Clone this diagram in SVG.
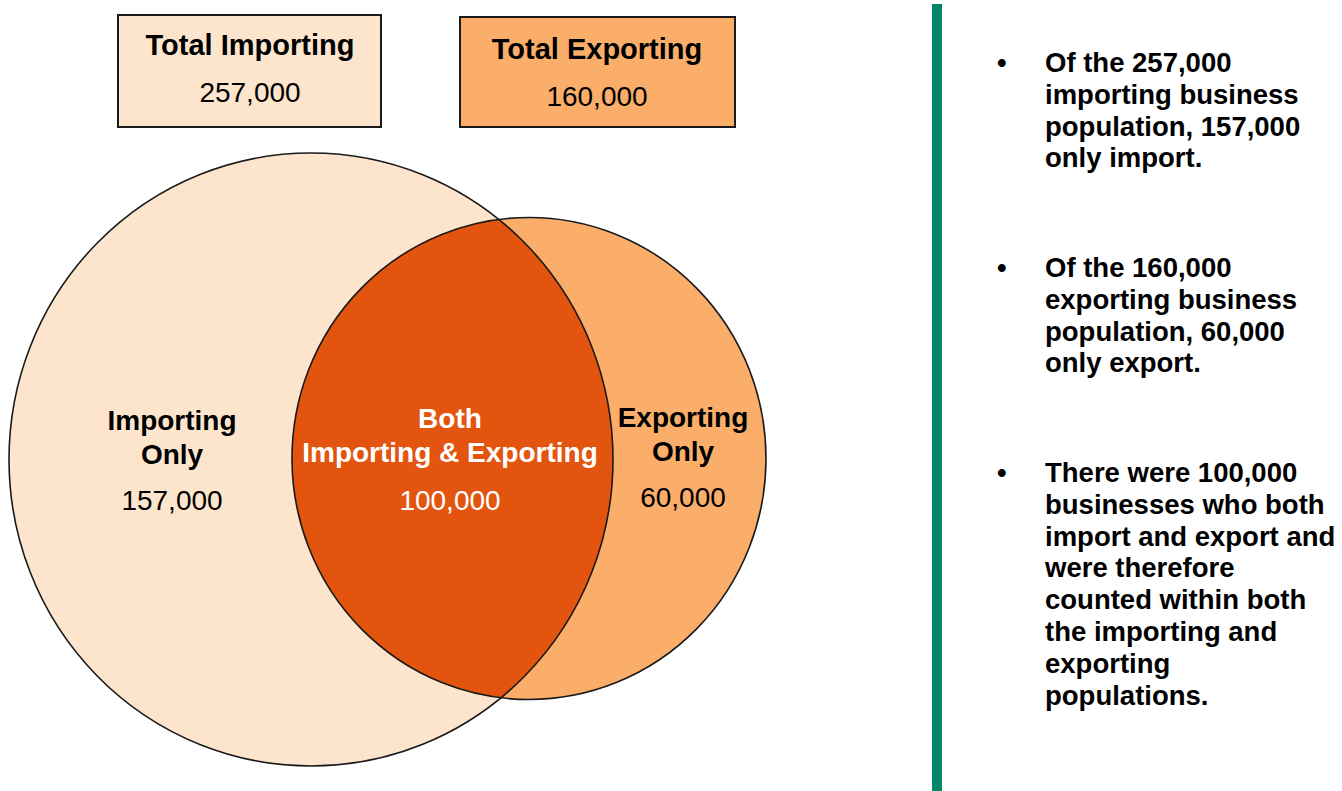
<svg xmlns="http://www.w3.org/2000/svg" width="1342" height="791" viewBox="0 0 1342 791">
<style>
.box{stroke:#1a1a1a;stroke-width:2}
.ring{fill:none;stroke:#1a1a1a;stroke-width:1.6}
.t{font-family:"Liberation Sans",Arial,sans-serif;text-anchor:middle;fill:#000}
.b{font-weight:bold}
.w{fill:#fff}
.lbl{font-size:28px}
.ttl{font-size:29px}
.num{font-size:28px}
.side{font-family:"Liberation Sans",Arial,sans-serif;font-weight:bold;font-size:27.5px;fill:#000}
</style>
<defs>
<clipPath id="bigClip"><ellipse cx="311" cy="459.5" rx="302" ry="306.5"/></clipPath>
</defs>
<rect width="1342" height="791" fill="#fff"/>
<g id="total-importing">
<rect class="box" x="118" y="15" width="263" height="112" fill="#FDE5CD"/>
<text class="t b ttl" x="250" y="55">Total Importing</text>
<text class="t num" x="250" y="102">257,000</text>
</g>
<g id="total-exporting">
<rect class="box" x="460" y="17" width="275" height="110" fill="#FBAD6A"/>
<text class="t b ttl" x="597" y="59">Total Exporting</text>
<text class="t num" x="597" y="106">160,000</text>
</g>
<g id="importing-only">
<ellipse cx="311" cy="459.5" rx="302" ry="306.5" fill="#FDE5CD"/>
</g>
<g id="exporting-only">
<ellipse cx="529" cy="458.5" rx="237" ry="241" fill="#FBAD6A"/>
</g>
<g id="both">
<ellipse cx="529" cy="458.5" rx="237" ry="241" fill="#E3550E" clip-path="url(#bigClip)"/>
</g>
<g id="outlines">
<ellipse class="ring" cx="311" cy="459.5" rx="302" ry="306.5"/>
<ellipse class="ring" cx="529" cy="458.5" rx="237" ry="241"/>
</g>
<g id="labels">
<text class="t b lbl" x="172" y="430">Importing</text>
<text class="t b lbl" x="172" y="464">Only</text>
<text class="t num" x="172" y="510">157,000</text>
<text class="t b lbl w" x="450" y="428">Both</text>
<text class="t b lbl w" x="450" y="462">Importing &amp; Exporting</text>
<text class="t num w" x="450" y="510">100,000</text>
<text class="t b lbl" x="683" y="427">Exporting</text>
<text class="t b lbl" x="683" y="461">Only</text>
<text class="t num" x="683" y="507">60,000</text>
</g>
<g id="divider">
<rect x="932" y="4" width="10" height="787" fill="#00876A"/>
</g>
<g id="notes">
<text class="side" x="997" y="72">•</text>
<text class="side" x="1045" y="72">Of the 257,000</text>
<text class="side" x="1045" y="104">importing business</text>
<text class="side" x="1045" y="135.5">population, 157,000</text>
<text class="side" x="1045" y="167">only import.</text>
<text class="side" x="997" y="277">•</text>
<text class="side" x="1045" y="277">Of the 160,000</text>
<text class="side" x="1045" y="309">exporting business</text>
<text class="side" x="1045" y="340.5">population, 60,000</text>
<text class="side" x="1045" y="372">only export.</text>
<text class="side" x="997" y="482">•</text>
<text class="side" x="1045" y="482">There were 100,000</text>
<text class="side" x="1045" y="514">businesses who both</text>
<text class="side" x="1045" y="545.5">import and export and</text>
<text class="side" x="1045" y="577">were therefore</text>
<text class="side" x="1045" y="609">counted within both</text>
<text class="side" x="1045" y="641">the importing and</text>
<text class="side" x="1045" y="673">exporting</text>
<text class="side" x="1045" y="705">populations.</text>
</g>
</svg>
